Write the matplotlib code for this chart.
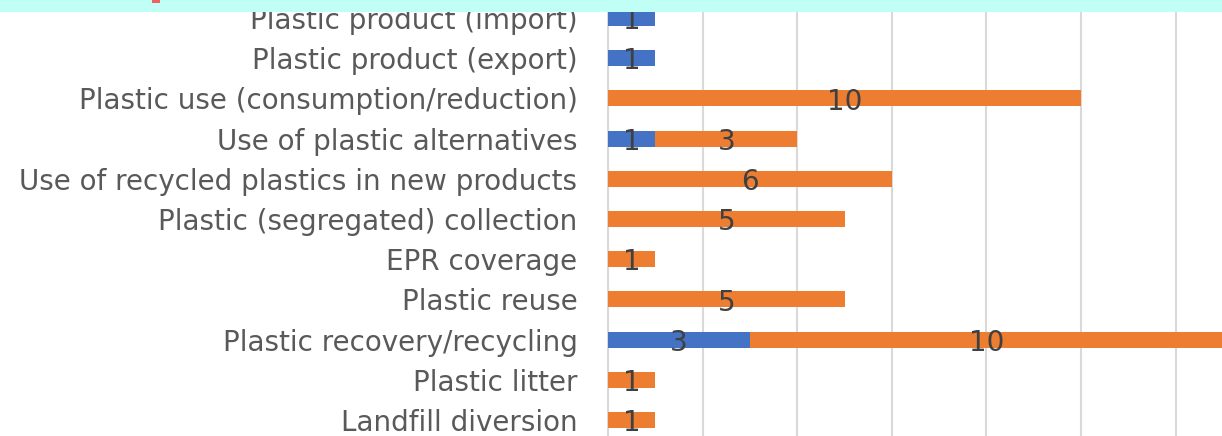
import matplotlib
matplotlib.use("Agg")
import matplotlib.pyplot as plt
from matplotlib.patches import Rectangle
import numpy as np

categories = [
    "Plastic product (import)",
    "Plastic product (export)",
    "Plastic use (consumption/reduction)",
    "Use of plastic alternatives",
    "Use of recycled plastics in new products",
    "Plastic (segregated) collection",
    "EPR coverage",
    "Plastic reuse",
    "Plastic recovery/recycling",
    "Plastic litter",
    "Landfill diversion",
]
blue_vals = [1, 1, 0, 1, 0, 0, 0, 0, 3, 0, 0]
orange_vals = [0, 0, 10, 3, 6, 5, 1, 5, 10, 1, 1]

BLUE = "#4472C4"
ORANGE = "#ED7D31"
TEXT = "#595959"
LABEL = "#404040"

W, H = 1222, 436
fig = plt.figure(figsize=(W / 100, H / 100), dpi=100)
left = 608 / W
ax = fig.add_axes([left, 0, 1 - left, 1])

n = len(categories)
y = np.arange(n)[::-1]  # top category at highest y
blue = np.array(blue_vals, dtype=float)
orange = np.array(orange_vals, dtype=float)
h = 0.4
ax.barh(y, blue, height=h, color=BLUE, zorder=3)
ax.barh(y, orange, left=blue, height=h, color=ORANGE, zorder=3)

for yi, b, o in zip(y, blue, orange):
    if b > 0:
        ax.text(b / 2, yi - 0.08, f"{int(b)}", ha="center", va="center",
                fontsize=20, color=LABEL, zorder=4)
    if o > 0:
        ax.text(b + o / 2, yi - 0.08, f"{int(o)}", ha="center", va="center",
                fontsize=20, color=LABEL, zorder=4)

ax.set_xlim(0, (W - 608) / 47.3)
ax.set_ylim(-0.40, 10.45)
ax.set_xticks(np.arange(0, 14, 2))
ax.xaxis.grid(True, color="#D9D9D9", linewidth=1.5, zorder=0)
ax.set_yticks(y)
ax.set_yticklabels(categories, fontsize=20, color=TEXT)
ax.tick_params(axis="y", length=0, pad=22)
ax.tick_params(axis="x", length=0, labelbottom=False)
for s in ["top", "right", "bottom"]:
    ax.spines[s].set_visible(False)
ax.spines["left"].set_color("#D9D9D9")
ax.spines["left"].set_linewidth(1.5)

# cyan band at top
fig.patches.append(Rectangle((0, 1 - 12 / H), 1, 12 / H, transform=fig.transFigure,
                             facecolor="#BFFFF5", edgecolor="none", zorder=10))
fig.patches.append(Rectangle((152 / W, 1 - 3 / H), 8 / W, 3 / H, transform=fig.transFigure,
                             facecolor="#F06060", edgecolor="none", zorder=11))

fig.savefig("out.png", dpi=100)
